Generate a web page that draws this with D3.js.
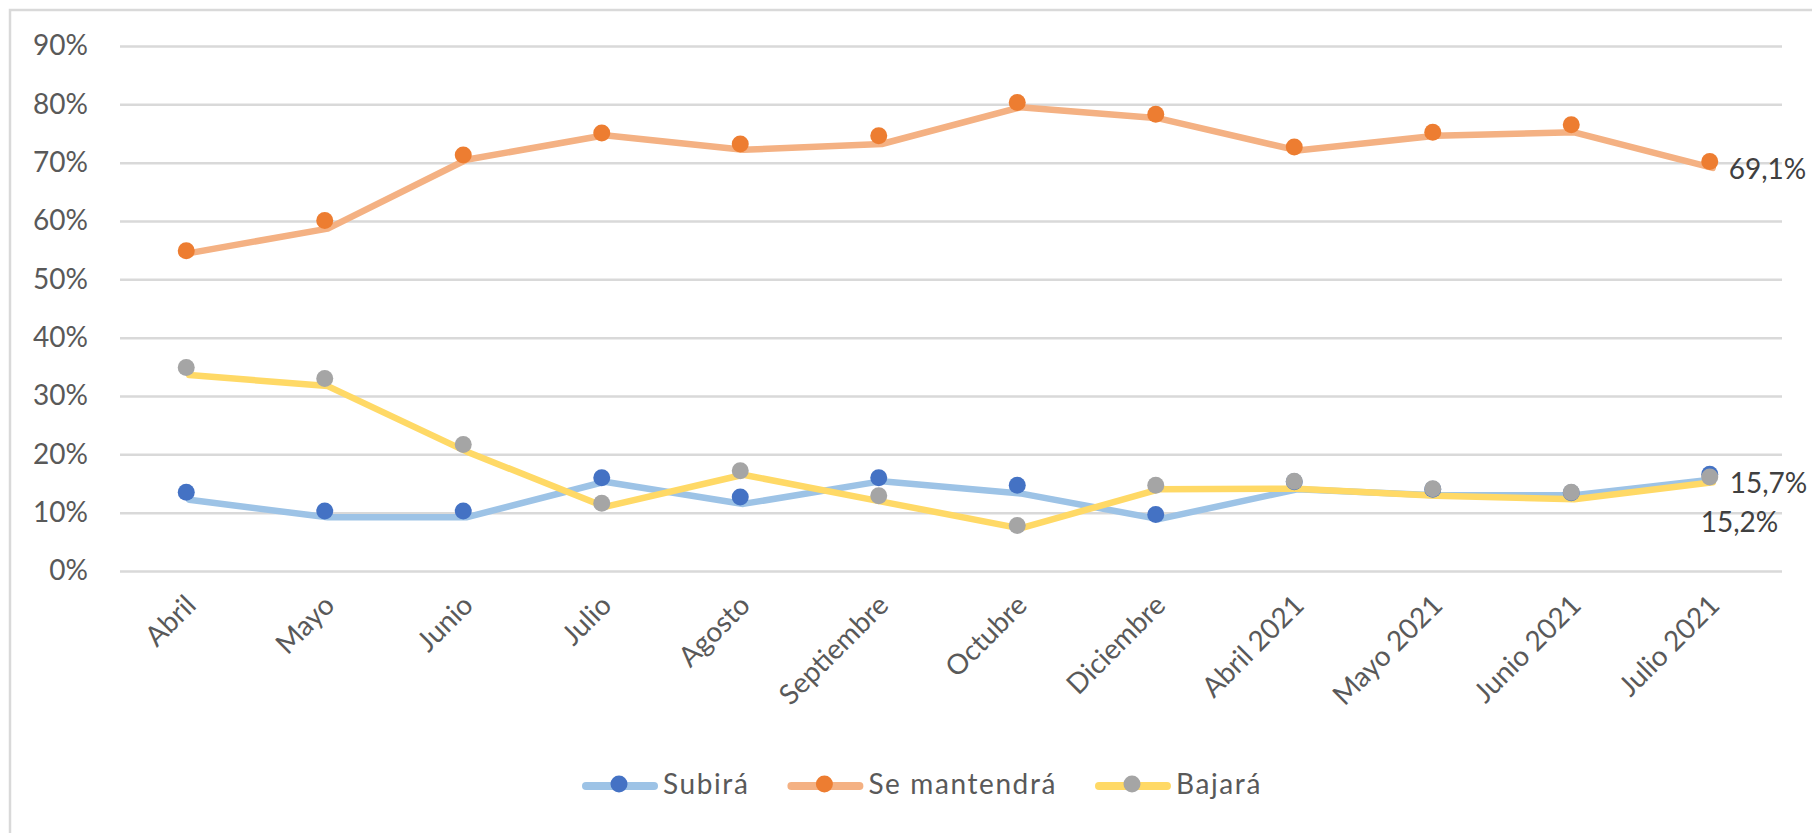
<!DOCTYPE html>
<html>
<head>
<meta charset="utf-8">
<script src="https://cdn.jsdelivr.net/npm/d3@7"></script>
<style>
  html, body { margin: 0; padding: 0; background: #fff; }
  svg text { font-family: Lato, "Open Sans", sans-serif; }
</style>
</head>
<body>
<svg id="chart" width="1812" height="833"></svg>
<script>
// ---- data (percent values) ----
const categories = ["Abril", "Mayo", "Junio", "Julio", "Agosto", "Septiembre",
  "Octubre", "Diciembre", "Abril 2021", "Mayo 2021", "Junio 2021", "Julio 2021"];

// line series
const subiraLine = [12.2, 9.2, 9.2, 15.3, 11.5, 15.4, 13.3, 8.9, 14.0, 13.0, 13.0, 15.7];
const mantendraLine = [54.5, 58.7, 70.5, 74.7, 72.2, 73.2, 79.5, 77.6, 72.1, 74.6, 75.2, 69.1];
const bajaraLine = [33.6, 31.7, 20.5, 11.0, 16.5, 11.9, 7.3, 14.0, 14.1, 12.9, 12.3, 15.2];

// marker series (drawn slightly off the lines in the original)
const subiraDots = [13.5, 10.3, 10.3, 16.0, 12.7, 16.0, 14.7, 9.7, 15.3, 14.0, 13.4, 16.6];
const mantendraDots = [54.9, 60.1, 71.3, 75.1, 73.2, 74.6, 80.3, 78.3, 72.7, 75.2, 76.5, 70.2];
const bajaraDots = [34.9, 33.0, 21.7, 11.6, 17.2, 12.9, 7.8, 14.7, 15.4, 14.1, 13.5, 16.1];

const yTicks = [0, 10, 20, 30, 40, 50, 60, 70, 80, 90];

const series = [
  { name: "Subirá", line: subiraLine, dots: subiraDots, lineColor: "#9DC3E6", dotColor: "#4472C4" },
  { name: "Se mantendrá", line: mantendraLine, dots: mantendraDots, lineColor: "#F4B183", dotColor: "#ED7D31" },
  { name: "Bajará", line: bajaraLine, dots: bajaraDots, lineColor: "#FFD966", dotColor: "#A5A5A5" }
];

// end labels: which series, and offset of the label from the last point
const endLabels = [
  { series: 1, dx: 16, dy: 11 },
  { series: 0, dx: 17, dy: 14 },
  { series: 2, dx: -12, dy: 50 }
];

const svg = d3.select("#chart");
const W = 1812, H = 833;
const margin = { left: 120, right: 30, top: 46, bottom: 262 };

// --- chart border (only top/left visible in the crop) ---
svg.append("rect")
  .attr("x", 10).attr("y", 10)
  .attr("width", W + 40).attr("height", H + 40)
  .attr("fill", "#fff")
  .attr("stroke", "#D9D9D9")
  .attr("stroke-width", 2.5);

const x = d3.scalePoint()
  .domain(categories)
  .range([margin.left, W - margin.right])
  .padding(0.5);

const y = d3.scaleLinear()
  .domain([0, 90])
  .range([H - margin.bottom, margin.top]);

// --- gridlines + y labels ---
const yAxis = svg.append("g")
  .attr("transform", `translate(${margin.left},0)`)
  .call(d3.axisLeft(y)
    .tickValues(yTicks)
    .tickSize(-(W - margin.left - margin.right))
    .tickPadding(32)
    .tickFormat(d => d + "%"));

yAxis.select(".domain").remove();
yAxis.selectAll(".tick line")
  .attr("stroke", "#D9D9D9")
  .attr("stroke-width", 2.5);
yAxis.selectAll(".tick text")
  .attr("fill", "#595959")
  .style("font-size", "28px");

// --- x labels, rotated ---
const xAxis = svg.append("g")
  .attr("transform", `translate(0,${H - margin.bottom})`)
  .call(d3.axisBottom(x).tickSize(0).tickPadding(0));

xAxis.select(".domain").remove();
xAxis.selectAll(".tick text")
  .attr("fill", "#595959")
  .style("font-size", "28px")
  .attr("text-anchor", "end")
  .attr("dy", null)
  .attr("y", null)
  .attr("transform", "translate(8,36) rotate(-45)");

// --- lines ---
const line = d3.line()
  .x((d, i) => x(categories[i]))
  .y(d => y(d));

svg.append("g")
  .selectAll("path")
  .data(series)
  .join("path")
  .attr("d", d => line(d.line))
  .attr("fill", "none")
  .attr("stroke", d => d.lineColor)
  .attr("stroke-width", 6.5)
  .attr("stroke-linejoin", "round")
  .attr("stroke-linecap", "round");

// --- markers ---
series.forEach(s => {
  svg.append("g")
    .selectAll("circle")
    .data(s.dots)
    .join("circle")
    .attr("cx", (d, i) => x(categories[i]) - 3)
    .attr("cy", d => y(d))
    .attr("r", 8.5)
    .attr("fill", s.dotColor);
});

// --- end value labels ---
const last = categories.length - 1;
svg.append("g")
  .selectAll("text")
  .data(endLabels)
  .join("text")
  .attr("x", d => x(categories[last]) + d.dx)
  .attr("y", d => y(series[d.series].line[last]) + d.dy)
  .attr("fill", "#404040")
  .style("font-size", "28px")
  .text(d => d3.format(".1f")(series[d.series].line[last]).replace(".", ",") + "%");

// --- legend ---
const legend = svg.append("g");
const legendY = 786;
let lx = 582;
series.forEach(s => {
  const item = legend.append("g");
  item.append("line")
    .attr("x1", lx + 4).attr("x2", lx + 72)
    .attr("y1", legendY).attr("y2", legendY)
    .attr("stroke", s.lineColor)
    .attr("stroke-width", 8)
    .attr("stroke-linecap", "round");
  item.append("circle")
    .attr("cx", lx + 37).attr("cy", legendY - 2)
    .attr("r", 8.5)
    .attr("fill", s.dotColor);
  const t = item.append("text")
    .attr("x", lx + 81)
    .attr("y", legendY + 8)
    .attr("fill", "#595959")
    .style("font-size", "28px")
    .style("letter-spacing", "1.6px")
    .text(s.name);
  lx += 81 + t.node().getComputedTextLength() + 38;
});
</script>
</body>
</html>
